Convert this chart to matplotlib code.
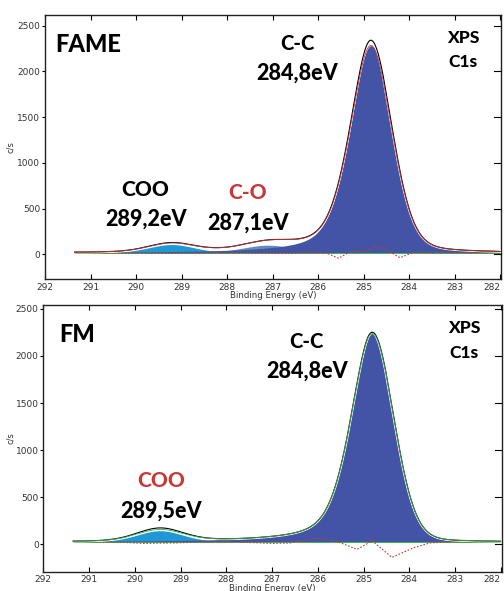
import numpy as np
import matplotlib.pyplot as plt

# FAME C1s fit components (binding energy in eV, height above background in c/s)
fame_names = ["C-C", "C-O", "COO"]
fame_centers = [284.84, 287.1, 289.22]
fame_heights = [2265, 85, 92]
fame_fwhm = [1.08, 1.35, 1.2]
fame_eta_hi = [0.45, 0.3, 0.2]   # lorentzian share, high-BE side
fame_eta_lo = [0.2, 0.3, 0.2]    # lorentzian share, low-BE side
fame_data_heights = [2322, 85, 96]
fame_background = 15
fame_resid_e = [291.35, 290.6, 289.9, 289.2, 288.5, 287.9, 287.3, 286.7, 286.1, 285.8,
                285.55, 285.3, 284.93, 284.71, 284.42, 284.2, 283.91, 283.5, 282.8, 282.0]
fame_resid = [0, -2, -4, -5, -2, 0, -4, -6, 0, -5,
              -58, 12, 22, 75, 12, -52, 5, 2, 0, 0]

# FM C1s fit components
fm_names = ["C-C", "COO"]
fm_centers = [284.81, 289.45]
fm_heights = [2215, 120]
fm_fwhm = [1.1, 1.2]
fm_eta_hi = [0.45, 0.2]
fm_eta_lo = [0.1, 0.2]
fm_data_heights = [2228, 136]
fm_background = 24
fm_resid_e = [291.35, 290.8, 290.2, 289.8, 289.5, 289.1, 288.6, 288.0, 287.5, 287.0, 286.6,
              286.3, 285.98, 285.6, 285.14, 284.81, 284.38, 283.9, 283.55, 283.2, 282.5, 282.0]
fm_resid = [5, 0, -5, -15, -12, -10, 0, 0, -5, -15, -10,
            20, 40, 10, -78, 13, -163, -60, -10, 0, 0, 0]

colors = {"C-C": "#4354a6", "C-O": "#5f8cbc", "COO": "#2098d6"}
red = "#c8383a"
green = "#3cb44b"


def gl_peak(x, c, h, w, eta_hi, eta_lo):
    eta = np.where(x > c, eta_hi, eta_lo)
    t = 4 * (x - c) ** 2 / w ** 2
    return h * ((1 - eta) * np.exp(-np.log(2) * t) + eta / (1 + t))


def draw_panel(ax, names, centers, heights, fwhm, eta_hi, eta_lo, data_heights,
               bg, resid_e, resid, fit_color):
    x = np.linspace(282.0, 291.35, 900)
    comps = [gl_peak(x, c, h, w, a, b) for c, h, w, a, b
             in zip(centers, heights, fwhm, eta_hi, eta_lo)]
    for name, comp in zip(names[::-1], comps[::-1]):
        ax.fill_between(x, bg, bg + comp, color=colors[name], lw=0, zorder=2)
    fit = bg + np.sum(comps, axis=0)
    data = bg + np.sum([gl_peak(x, c, h, w, a, b) for c, h, w, a, b
                        in zip(centers, data_heights, fwhm, eta_hi, eta_lo)], axis=0)
    ax.plot([291.35, 282.0], [bg, bg], color=green, lw=0.7, zorder=3)
    ax.plot(resid_e, np.array(resid) + bg, color=red, lw=0.8, ls=(0, (1.5, 1.5)), zorder=4)
    ax.plot(x, data, color="white", lw=2.0, zorder=4)
    ax.plot(x, data, color="black", lw=0.8, zorder=5)
    ax.plot(x, fit, color=fit_color, lw=0.6, zorder=5)


fig = plt.figure(figsize=(5.04, 5.91), dpi=100)
ax1 = fig.add_axes([0.0893, 0.5274, 0.9048, 0.4472])
ax2 = fig.add_axes([0.0859, 0.0327, 0.9095, 0.4513])

draw_panel(ax1, fame_names, fame_centers, fame_heights, fame_fwhm, fame_eta_hi, fame_eta_lo,
           fame_data_heights, fame_background, fame_resid_e, fame_resid, red)
draw_panel(ax2, fm_names, fm_centers, fm_heights, fm_fwhm, fm_eta_hi, fm_eta_lo,
           fm_data_heights, fm_background, fm_resid_e, fm_resid, green)

ax1.set_xlim(292, 281.98)
ax1.set_ylim(-273, 2615)
ax2.set_xlim(291.97, 281.98)
ax2.set_ylim(-291, 2542)

tick_font = ["Liberation Sans Narrow", "DejaVu Sans"]
for ax, ylab_x, xlab_y in [(ax1, -0.066, -0.046), (ax2, -0.062, -0.0445)]:
    ax.set_xticks(np.arange(282, 293, 1))
    ax.set_yticks(np.arange(0, 2501, 500))
    ax.tick_params(axis="x", direction="in", top=True, length=3.5, width=0.8,
                   labelsize=6.5, pad=2.5, labelcolor="#333333")
    ax.tick_params(axis="y", which="both", left=True, right=False, direction="out",
                   length=2.5, width=0.8, labelsize=6.5, pad=0.8, labelcolor="#333333")
    fig.canvas.draw()
    for lab in ax.get_xticklabels() + ax.get_yticklabels():
        lab.set_family(tick_font)
    # last tick label sits on the right frame, keep it inside the figure
    ax.get_xticklabels()[0].set_ha("right")
    for yv in np.arange(0, 2501, 500):
        ax.plot([1, 0.985], [yv, yv], transform=ax.get_yaxis_transform(),
                color="black", lw=0.8, clip_on=False, zorder=6)
    for s in ax.spines.values():
        s.set_linewidth(1.0)
        s.set_color("#222222")
    ax.set_xlabel("Binding Energy (eV)", fontsize=6.2, family=tick_font, color="#333333")
    ax.xaxis.set_label_coords(0.5, xlab_y)
    ax.set_ylabel("c/s", fontsize=6, family=tick_font, color="#333333")
    ax.yaxis.set_label_coords(ylab_x, 0.5)

lab = dict(family="Lato", fontweight="black", ha="center", va="baseline", zorder=7)

ax1.text(291.78, 2207, "FAME", family="Lato", fontweight="black", fontsize=17, ha="left", va="baseline")
ax1.text(286.46, 2232, "C-C", fontsize=14.5, **lab)
ax1.text(286.46, 1905, "284,8eV", fontsize=15.5, **lab)
ax1.text(282.81, 2312, "XPS", fontsize=12.5, **lab)
ax1.text(282.81, 2050, "C1s", fontsize=12.5, **lab)
ax1.text(289.79, 637, "COO", fontsize=15, **lab)
ax1.text(289.79, 309, "289,2eV", fontsize=15.5, **lab)
ax1.text(287.54, 601, "C-O", fontsize=15, color=red, **lab)
ax1.text(287.54, 266, "287,1eV", fontsize=15.5, **lab)

ax2.text(291.65, 2147, "FM", family="Lato", fontweight="black", fontsize=17, ha="left", va="baseline")
ax2.text(286.24, 2089, "C-C", fontsize=14.5, **lab)
ax2.text(286.24, 1770, "284,8eV", fontsize=15.5, **lab)
ax2.text(282.80, 2242, "XPS", fontsize=12.5, **lab)
ax2.text(282.80, 1977, "C1s", fontsize=12.5, **lab)
ax2.text(289.42, 612, "COO", fontsize=15, color=red, **lab)
ax2.text(289.42, 283, "289,5eV", fontsize=15.5, **lab)

fig.savefig("out.png", dpi=100)
